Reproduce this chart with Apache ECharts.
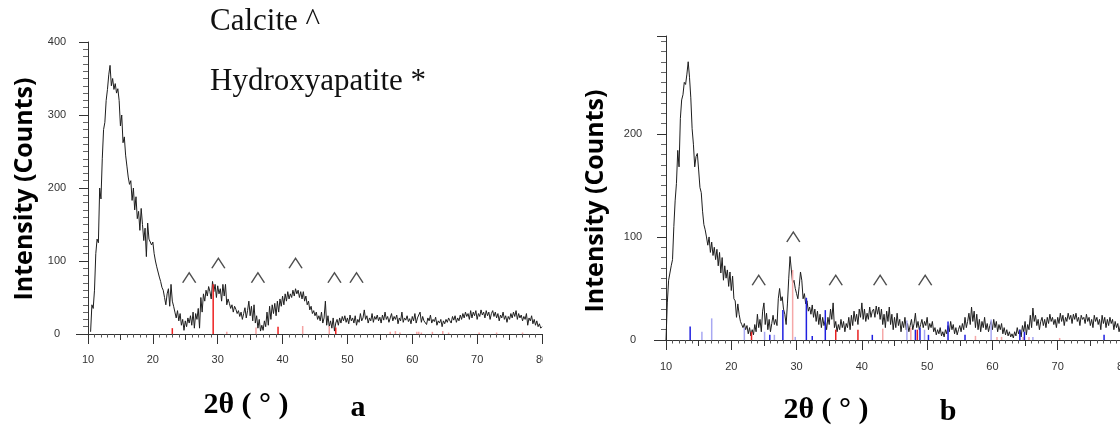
<!DOCTYPE html>
<html>
<head>
<meta charset="utf-8">
<title>XRD patterns a and b</title>
<script src="https://cdn.jsdelivr.net/npm/echarts@6/dist/echarts.min.js"></script>
<style>
  html, body { margin: 0; padding: 0; background: #fff; }
  #chart { width: 1120px; height: 426px; }
</style>
</head>
<body>
<div id="chart"></div>
<script>
// Scan grid of the two diffractograms (degrees 2θ)
const scanStep = 0.2;
const startA = 10.4;
const startB = 10.0;

// Pattern a: measured counts, one value per scan step from startA
const countsA = [
  3, 40, 35, 60, 110, 130, 125, 200, 185, 240, 280, 290, 320, 335, 355, 368, 340, 350, 335, 343,
  330, 336, 320, 285, 300, 262, 270, 245, 230, 215, 205, 210, 183, 200, 170, 188, 158, 168, 142, 172,
  150, 128, 145, 106, 152, 130, 128, 122, 126, 110, 100, 92, 90, 78, 72, 64, 60, 50, 40, 55,
  62, 38, 68, 45, 38, 30, 22, 32, 18, 28, 12, 20, 5, 18, 10, 22, 15, 25, 12, 30,
  8, 28, 20, 35, 8, 50, 30, 55, 45, 60, 52, 65, 58, 48, 72, 58, 68, 50, 66, 55,
  62, 45, 68, 52, 68, 40, 48, 42, 35, 40, 30, 38, 34, 28, 32, 24, 30, 20, 28, 36,
  22, 32, 45, 25, 38, 18, 40, 15, 25, 8, 20, 4, 12, 5, 18, 10, 30, 12, 38, 20,
  40, 28, 42, 25, 45, 30, 48, 38, 52, 40, 55, 45, 58, 48, 55, 50, 60, 52, 62, 55,
  60, 50, 58, 48, 58, 45, 52, 40, 45, 33, 38, 28, 32, 25, 30, 20, 25, 18, 30, 15,
  22, 45, 12, 25, 10, 18, 8, 22, 4, 15, 20, 12, 22, 15, 24, 18, 25, 16, 22, 14,
  26, 18, 22, 15, 25, 12, 20, 16, 28, 18, 22, 33, 20, 25, 15, 22, 18, 28, 16, 24,
  20, 26, 18, 23, 15, 26, 19, 30, 20, 24, 16, 22, 28, 18, 24, 20, 26, 14, 22, 18,
  30, 16, 22, 19, 25, 17, 21, 14, 24, 18, 28, 15, 22, 20, 30, 16, 24, 18, 20, 13,
  22, 18, 26, 15, 20, 17, 23, 12, 18, 15, 20, 10, 18, 14, 20, 16, 22, 18, 15, 24,
  19, 25, 16, 22, 18, 26, 20, 28, 22, 30, 24, 28, 20, 32, 22, 30, 25, 32, 20, 28,
  24, 33, 26, 30, 22, 32, 25, 30, 20, 28, 32, 24, 30, 22, 28, 18, 26, 22, 30, 20,
  25, 16, 24, 20, 28, 22, 30, 24, 32, 20, 28, 22, 26, 18, 24, 20, 28, 12, 22, 18,
  25, 14, 20, 12, 18, 10, 14, 8, 10
];

// Pattern b: measured counts, one value per scan step from startB
const countsB = [
  0, 36, 58, 65, 72, 78, 110, 135, 152, 184, 168, 215, 233, 238, 250, 248, 258, 270, 255, 235,
  205, 190, 168, 178, 181, 165, 148, 143, 125, 112, 107, 100, 92, 100, 85, 95, 82, 90, 78, 88,
  72, 85, 65, 80, 58, 72, 60, 68, 52, 66, 48, 62, 40, 38, 22, 35, 25, 18, 15, 12,
  16, 10, 14, 6, 12, 4, 10, 5, 15, 8, 25, 12, 20, 8, 28, 36, 15, 26, 10, 20,
  8, 16, 24, 15, 20, 14, 40, 50, 38, 42, 30, 25, 15, 35, 60, 81, 68, 55, 58, 50,
  45, 40, 52, 66, 58, 40, 45, 35, 38, 28, 32, 25, 34, 22, 30, 18, 28, 15, 25, 12,
  22, 14, 19, 10, 22, 15, 30, 20, 36, 12, 18, 8, 15, 10, 20, 12, 18, 8, 16, 12,
  22, 10, 24, 14, 28, 18, 25, 15, 30, 22, 36, 20, 30, 18, 26, 20, 32, 22, 28, 30,
  22, 33, 25, 32, 20, 30, 15, 25, 12, 28, 18, 32, 15, 25, 10, 22, 12, 26, 14, 20,
  8, 18, 12, 22, 10, 16, 8, 14, 20, 10, 16, 26, 12, 18, 10, 15, 20, 12, 18, 14,
  22, 10, 16, 12, 18, 8, 12, 5, 10, 6, 12, 4, 8, 3, 10, 6, 14, 8, 18, 10,
  15, 6, 12, 5, 10, 14, 8, 16, 10, 22, 12, 18, 26, 15, 32, 18, 28, 12, 25, 10,
  20, 8, 18, 12, 22, 10, 16, 8, 14, 18, 10, 20, 12, 18, 8, 15, 10, 16, 6, 12,
  5, 10, 4, 8, 3, 6, 2, 8, 4, 12, 6, 10, 3, 14, 8, 18, 5, 15, 10, 24,
  12, 31, 18, 24, 14, 20, 10, 18, 22, 14, 20, 12, 22, 16, 25, 18, 22, 15, 20, 12,
  22, 16, 26, 18, 24, 14, 22, 18, 26, 20, 24, 16, 25, 20, 26, 18, 22, 14, 24, 20,
  22, 16, 25, 18, 22, 14, 20, 12, 24, 18, 22, 15, 20, 10, 24, 16, 22, 12, 20, 14,
  22, 16, 20, 10, 18, 12, 16, 8, 14, 6, 12
];

// Reference stick patterns: [2θ, relative height in counts]
const calciteA = [[29.3, 68], [39.3, 10], [48.2, 9], [23.0, 8]];
const calciteFaintA = [[31.4, 3], [35.9, 9], [43.1, 11], [47.2, 11], [56.6, 3], [57.4, 4], [58.1, 2],
  [60.7, 3], [61.0, 3], [61.4, 2], [63.1, 3], [64.7, 4], [65.6, 2], [70.3, 2], [73.0, 2], [77.0, 2]];

const calciteB = [[23.1, 8], [36.0, 10], [39.4, 10], [48.5, 10]];
const calciteFaintB = [[29.4, 68], [43.2, 11], [47.5, 12], [57.4, 4], [60.7, 3], [61.4, 3],
  [64.7, 3], [65.6, 3], [70.3, 2]];
const apatiteB = [[13.7, 13], [25.9, 5], [27.9, 29], [31.5, 41], [32.4, 4], [34.4, 29], [41.6, 5],
  [48.2, 10], [48.9, 12], [50.2, 5], [53.2, 18], [55.8, 5], [64.2, 10], [64.9, 8], [77.1, 5]];
const apatiteFaintB = [[15.5, 8], [17.0, 21], [22.0, 12], [25.1, 8], [26.6, 5], [29.8, 3],
  [46.9, 19], [49.6, 10], [59.8, 20], [66.2, 3]];

// Calcite reflections flagged with a caret: [2θ, counts]
const caretsA = [[25.6, 77], [30.1, 97], [36.2, 77], [42.0, 97], [48.0, 77], [51.4, 77]];
const caretsB = [[24.2, 58], [29.5, 100], [36.0, 58], [42.8, 58], [49.7, 58]];

// Axis tick labels
const yLabelStepA = 100;
const yLabelStepB = 100;

const anglesA = countsA.map((_, i) => +(startA + i * scanStep).toFixed(1));
const anglesB = countsB.map((_, i) => +(startB + i * scanStep).toFixed(1));
const curveA = anglesA.map((t, i) => [t, countsA[i]]);
const curveB = anglesB.map((t, i) => [t, countsB[i]]);

const chart = echarts.init(document.getElementById('chart'), null, { renderer: 'canvas' });

const axisColor = '#333';
const labelFont = { fontFamily: 'Liberation Sans, Arial, sans-serif', fontSize: 11, color: '#333' };

function mainX(gridIndex, margin) {
  return {
    type: 'value', gridIndex, min: 10, max: 80, interval: 5,
    axisLine: { show: true, onZero: false, lineStyle: { color: axisColor, width: 1 } },
    axisTick: { show: true, length: 6, lineStyle: { color: axisColor } },
    minorTick: { show: true, splitNumber: 5, length: 3.5, lineStyle: { color: '#555' } },
    splitLine: { show: false },
    axisLabel: Object.assign({ margin, formatter: v => (v % 10 === 0 ? String(v) : '') }, labelFont)
  };
}
function longTickX(gridIndex) {
  return {
    type: 'value', gridIndex, min: 10, max: 80, interval: 10, position: 'bottom',
    axisLine: { show: false },
    axisTick: { show: true, length: 10, lineStyle: { color: axisColor } },
    axisLabel: { show: false },
    splitLine: { show: false }
  };
}
function mainY(gridIndex, max, labelStep, margin) {
  return {
    type: 'value', gridIndex, min: 0, max, interval: labelStep,
    axisLine: { show: true, onZero: false, lineStyle: { color: axisColor, width: 1 } },
    axisTick: { show: true, length: 9, lineStyle: { color: axisColor } },
    minorTick: { show: true, splitNumber: 10, length: 5, lineStyle: { color: '#666' } },
    splitLine: { show: false },
    axisLabel: Object.assign({ margin, align: 'center', formatter: v => (v % labelStep === 0 ? String(v) : '') }, labelFont)
  };
}

function sticks(xAxisIndex, yAxisIndex, data, color) {
  return {
    type: 'custom', xAxisIndex, yAxisIndex, data, z: 4, silent: true,
    renderItem(params, api) {
      const base = api.coord([api.value(0), 0]);
      const top = api.coord([api.value(0), api.value(1)]);
      return {
        type: 'line',
        shape: { x1: base[0], y1: base[1], x2: top[0], y2: top[1] },
        style: { stroke: color, lineWidth: 1.5 }
      };
    }
  };
}

function curve(xAxisIndex, yAxisIndex, data) {
  return {
    type: 'line', xAxisIndex, yAxisIndex, data, showSymbol: false, symbol: 'none', z: 3,
    lineStyle: { color: '#1e1e1e', width: 1 }, silent: true
  };
}

function carets(xAxisIndex, yAxisIndex, data) {
  return {
    type: 'scatter', xAxisIndex, yAxisIndex, data, z: 5, silent: true,
    symbol: 'path://M0,10 L6,0 L12,10', symbolSize: [13, 10],
    itemStyle: { color: 'transparent', borderColor: '#222', borderWidth: 1.3 }
  };
}

const serif = 'Liberation Serif, "Times New Roman", serif';
const titleSans = '"Open Sans", "Noto Sans", sans-serif';

chart.setOption({
  animation: false,
  backgroundColor: '#fff',
  grid: [
    { left: 88, right: 578, top: 42, bottom: 92, containLabel: false, outerBoundsMode: 'none' },
    { left: 666, right: -3, top: 36, bottom: 86, containLabel: false, outerBoundsMode: 'none' }
  ],
  xAxis: [mainX(0, 20), longTickX(0), mainX(1, 21), longTickX(1)],
  yAxis: [mainY(0, 400, yLabelStepA, 31), mainY(1, 295, yLabelStepB, 33)],
  series: [
    curve(0, 0, curveA),
    sticks(0, 0, calciteFaintA, '#f5a3a3'),
    sticks(0, 0, calciteA, '#ee2020'),
    carets(0, 0, caretsA),
    curve(2, 1, curveB),
    sticks(2, 1, apatiteFaintB, '#a8a8f2'),
    sticks(2, 1, calciteFaintB, '#f5a8a8'),
    sticks(2, 1, apatiteB, '#2020e0'),
    sticks(2, 1, calciteB, '#e82020'),
    carets(2, 1, caretsB)
  ],
  graphic: [
    // baseline stubs reaching a little left of each y axis
    { type: 'line', shape: { x1: 76, y1: 334.5, x2: 88, y2: 334.5 }, style: { stroke: axisColor, lineWidth: 1 } },
    { type: 'line', shape: { x1: 654, y1: 340.5, x2: 666, y2: 340.5 }, style: { stroke: axisColor, lineWidth: 1 } },
    // panel a is trimmed just past its last tick label
    { type: 'rect', shape: { x: 543, y: 346, width: 20, height: 24 }, style: { fill: '#fff' }, z: 100 },
    { type: 'text', left: 210, top: 6, style: { text: 'Calcite ^', font: '31px ' + serif, fill: '#111' } },
    { type: 'text', left: 210, top: 66, style: { text: 'Hydroxyapatite *', font: '31px ' + serif, fill: '#111' } },
    { type: 'text', x: 25, y: 189, rotation: Math.PI / 2,
      style: { text: 'Intensity (Counts)', font: 'bold 25px ' + titleSans, fill: '#000', align: 'center', verticalAlign: 'middle' } },
    { type: 'text', x: 596, y: 201, rotation: Math.PI / 2,
      style: { text: 'Intensity (Counts)', font: 'bold 25px ' + titleSans, fill: '#000', align: 'center', verticalAlign: 'middle' } },
    { type: 'text', x: 246, y: 405,
      style: { text: '2θ ( ° )', font: 'bold 30px ' + serif, fill: '#000', align: 'center', verticalAlign: 'middle' } },
    { type: 'text', x: 358, y: 408,
      style: { text: 'a', font: 'bold 30px ' + serif, fill: '#000', align: 'center', verticalAlign: 'middle' } },
    { type: 'text', x: 826, y: 410,
      style: { text: '2θ ( ° )', font: 'bold 30px ' + serif, fill: '#000', align: 'center', verticalAlign: 'middle' } },
    { type: 'text', x: 948, y: 412,
      style: { text: 'b', font: 'bold 30px ' + serif, fill: '#000', align: 'center', verticalAlign: 'middle' } }
  ]
});
</script>
</body>
</html>
